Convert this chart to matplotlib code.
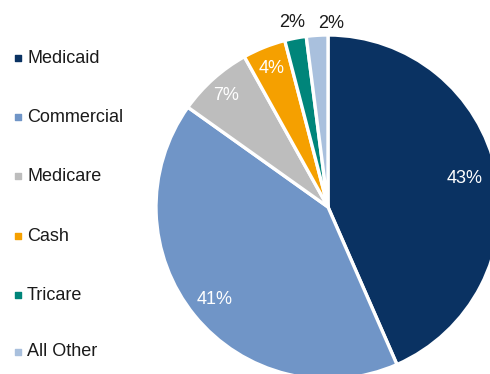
import numpy as np
import matplotlib
matplotlib.use("Agg")
import matplotlib.pyplot as plt

categories = ["Medicaid", "Commercial", "Medicare", "Cash", "Tricare", "All Other"]
shares = [43, 41, 7, 4, 2, 2]
colors = ["#0a3262", "#7095c7", "#bdbdbd", "#f5a000", "#00857a", "#a9c0dd"]
label_dist = [0.81, 0.85, 0.87, 0.87, 1.09, 1.07]
label_shift = [0, 0, -2, -1, 0, 15]  # horizontal nudge in pixels
label_colors = ["white", "white", "white", "white", "#1a1a1a", "#1a1a1a"]

plt.rcParams["font.family"] = ["Liberation Sans", "DejaVu Sans"]

W, H = 490, 374
fig = plt.figure(figsize=(W / 100, H / 100), dpi=100)
ax = fig.add_axes([0, 0, 1, 1])

cx, cy, r = 328, H - 207, 172
wedges, _ = ax.pie(shares, colors=colors, startangle=90, counterclock=False,
                   center=(cx, cy), radius=r,
                   wedgeprops=dict(edgecolor="white", linewidth=2.4))

for w, val, d, s, c in zip(wedges, shares, label_dist, label_shift, label_colors):
    mid = np.deg2rad((w.theta1 + w.theta2) / 2)
    x = cx + d * r * np.cos(mid) + s
    y = cy + d * r * np.sin(mid)
    ax.text(x, y, f"{val}%", ha="center", va="center", fontsize=13, color=c)

# Legend column on the left
legend_y = [58, 117, 176, 236, 295, 352]
for name, col, yy in zip(categories, colors, legend_y):
    ax.scatter([18], [H - yy], marker="s", s=16, color=col, zorder=5)
    ax.text(27, H - yy, name, ha="left", va="center", fontsize=13, color="#1a1a1a")

ax.set_xlim(0, W)
ax.set_ylim(0, H)
ax.set_aspect("equal", adjustable="box")
ax.axis("off")

fig.savefig("out.png", dpi=100, facecolor="white")
